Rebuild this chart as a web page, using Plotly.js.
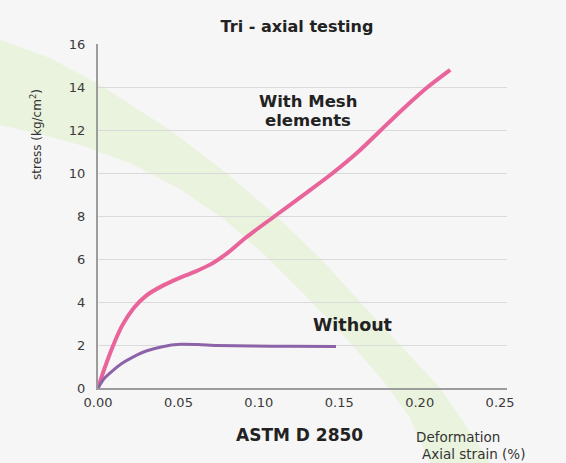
<!DOCTYPE html>
<html>
<head>
<meta charset="utf-8">
<script src="https://cdn.plot.ly/plotly-3.0.1.min.js"></script>
<style>html,body{margin:0;padding:0;background:#f6f6f6;}</style>
</head>
<body>
<div id="chart" style="width:566px;height:463px;"></div>
<script>
// ---- data ----
var meshStrain = [0, 0.004, 0.009, 0.015, 0.022, 0.030, 0.040, 0.050, 0.060, 0.070, 0.080, 0.092, 0.110, 0.130, 0.146, 0.162, 0.176, 0.190, 0.205, 0.219];
var meshStress = [0, 0.9, 1.9, 2.9, 3.7, 4.3, 4.75, 5.1, 5.4, 5.75, 6.25, 7.0, 8.0, 9.1, 10.0, 11.0, 12.0, 13.0, 14.0, 14.8];
var withoutStrain = [0, 0.004, 0.009, 0.015, 0.022, 0.030, 0.040, 0.051, 0.062, 0.074, 0.096, 0.119, 0.148];
var withoutStress = [0, 0.45, 0.8, 1.15, 1.45, 1.72, 1.92, 2.03, 2.02, 1.98, 1.95, 1.94, 1.93];
var xTickStep = 0.05;
var yTickStep = 2;

// ---- decoration geometry (pixels of the 566x463 picture) ----
var W = 566, H = 463;
var M = {l: 98, r: 59, t: 44, b: 75};
var plotW = W - M.l - M.r, plotH = H - M.t - M.b;
function px(x){ return (x - M.l) / plotW; }
function py(y){ return (H - M.b - y) / plotH; }
var bandUpper = [[0,40],[50,58],[100,85],[170,130],[225,172],[275,215],[320,258],[360,302],[400,345],[440,388],[462,420],[490,463]];
var bandLower = [[430,463],[410,418],[385,383],[345,337],[305,295],[265,255],[225,220],[180,189],[130,163],[80,145],[40,134],[0,125]];
function bandPath(){
  var pts = bandUpper.concat(bandLower);
  var s = '';
  pts.forEach(function(p, i){ s += (i === 0 ? 'M' : 'L') + px(p[0]).toFixed(4) + ',' + py(p[1]).toFixed(4); });
  return s + 'Z';
}

var traces = [
  {x: meshStrain, y: meshStress, mode: 'lines', line: {color: '#e8649b', width: 4, shape: 'spline', smoothing: 0.8}, hoverinfo: 'skip', showlegend: false},
  {x: withoutStrain, y: withoutStress, mode: 'lines', line: {color: '#8c63a8', width: 3, shape: 'spline', smoothing: 0.8}, hoverinfo: 'skip', showlegend: false}
];

var txt = '#222222';
var dv = 'DejaVu Sans, Verdana, sans-serif';
function note(text, x, y, size, extra){
  var a = {text: text, xref: 'paper', yref: 'paper', x: px(x), y: py(y), xanchor: 'center', yanchor: 'middle', showarrow: false, font: {family: dv, size: size, color: txt}};
  if (extra) for (var k in extra) a[k] = extra[k];
  return a;
}
var layout = {
  width: W, height: H,
  margin: M,
  paper_bgcolor: '#f6f6f6',
  plot_bgcolor: 'rgba(0,0,0,0)',
  font: {family: dv, color: '#333'},
  title: {text: '<b>Tri - axial testing</b>', x: px(297), xref: 'paper', xanchor: 'center', y: 1 - 26 / H, yanchor: 'middle', font: {family: dv, size: 16, color: txt}},
  xaxis: {
    range: [0, 0.2543], dtick: xTickStep, tick0: 0, tickformat: '.2f',
    showgrid: false, zeroline: false, showline: true, linecolor: '#9c9c9c', linewidth: 2,
    ticks: 'outside', ticklen: 1, tickcolor: 'rgba(0,0,0,0)',
    tickfont: {family: dv, size: 13, color: '#3a3a3a'}, fixedrange: true
  },
  yaxis: {
    range: [0, 16], dtick: yTickStep, tick0: 0,
    showgrid: true, gridcolor: '#dadada', gridwidth: 1,
    zeroline: false, showline: true, linecolor: '#9c9c9c', linewidth: 2,
    ticks: 'outside', ticklen: 8, tickcolor: 'rgba(0,0,0,0)',
    tickfont: {family: dv, size: 13, color: '#3a3a3a'}, fixedrange: true
  },
  shapes: [
    {type: 'path', xref: 'paper', yref: 'paper', path: bandPath(), fillcolor: '#e6f2d6', opacity: 0.75, line: {width: 0}, layer: 'below'}
  ],
  annotations: [
    note('<b>With Mesh</b>', 308, 102, 16.5),
    note('<b>elements</b>', 308, 121, 16.5),
    note('<b>Without</b>', 352, 325, 17.5),
    note('<b>ASTM D 2850</b>', 299, 435, 17),
    note('Deformation', 458, 437, 13.5, {font: {family: dv, size: 13.5, color: '#333'}}),
    note('Axial strain (%)', 473, 454, 13.5, {font: {family: dv, size: 13.5, color: '#333'}}),
    note('stress (kg/cm<sup>2</sup>)', 36, 135, 12, {textangle: -90, font: {family: dv, size: 12, color: '#333'}})
  ]
};

Plotly.newPlot('chart', traces, layout, {displayModeBar: false, staticPlot: true});
</script>
</body>
</html>
